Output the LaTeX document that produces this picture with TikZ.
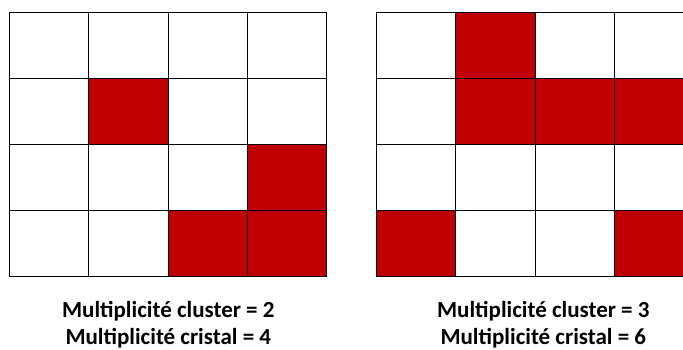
\documentclass[tikz,border=0pt]{standalone}
\usepackage{fontspec}
\setmainfont{Carlito}
\usepackage{tikz}
\definecolor{CellRed}{RGB}{192,0,0}
\tikzset{
  grid line/.style={draw=black,line width=1pt},
  cell on/.style={fill=CellRed},
  caption/.style={font=\bfseries\fontsize{23}{27}\selectfont,anchor=base,inner sep=0pt}
}
\begin{document}
\begin{tikzpicture}[x=1pt,y=-1pt]
  \useasboundingbox (0,0) rectangle (683,349);
  \clip (0,0) rectangle (683,349);
  \def\cw{79.4} \def\ch{66.1}
  % grille gauche
  \foreach \c/\r in {1/1,3/2,2/3,3/3}
    \fill[cell on] ({9.3+\c*\cw},{12.3+\r*\ch}) rectangle ++(\cw,\ch);
  % grille droite
  \foreach \c/\r in {1/0,1/1,2/1,3/1,0/3,3/3}
    \fill[cell on] ({376.3+\c*\cw},{12.3+\r*\ch}) rectangle ++(\cw,\ch);
  % lignes des deux grilles
  \foreach \gx in {9.3,376.3}
    \foreach \i in {0,...,4} {
      \draw[grid line] ({\gx+\i*\cw},12.3) -- ++(0,{4*\ch});
      \draw[grid line] (\gx,{12.3+\i*\ch}) -- ++({4*\cw},0);
    }
  \node[caption] (capL1) at (168.3,317.3) {Multiplicité cluster = 2};
  \node[caption] (capL2) at (168.3,344.3) {Multiplicité cristal = 4};
  \node[caption] (capR1) at (543.3,317.3) {Multiplicité cluster = 3};
  \node[caption] (capR2) at (543.3,344.3) {Multiplicité cristal = 6};
\end{tikzpicture}
\end{document}
